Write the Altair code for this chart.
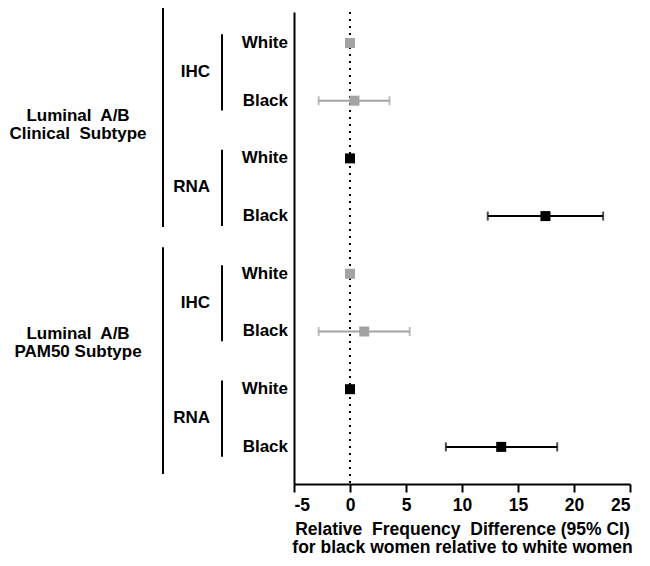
import altair as alt
import pandas as pd

# ---- data ----
subtype = ["Clinical", "Clinical", "Clinical", "Clinical", "PAM50", "PAM50", "PAM50", "PAM50"]
method = ["IHC", "IHC", "RNA", "RNA", "IHC", "IHC", "RNA", "RNA"]
race = ["White", "Black", "White", "Black", "White", "Black", "White", "Black"]
estimate = [0.0, 0.4, 0.0, 17.45, 0.0, 1.27, 0.0, 13.5]
lower = [None, -2.8, None, 12.3, None, -2.8, None, 8.56]
upper = [None, 3.53, None, 22.6, None, 5.33, None, 18.5]

method_labels = ["IHC", "RNA", "IHC", "RNA"]
subtype_labels = ["Luminal\u00a0 A/B\nClinical\u00a0 Subtype", "Luminal\u00a0 A/B\nPAM50 Subtype"]

x_ticks = [-5, 0, 5, 10, 15, 20, 25]

FONT = "Liberation Sans"
GRAY = "#a3a3a3"

df = pd.DataFrame({
    "row": list(range(1, 9)),
    "subtype": subtype,
    "method": method,
    "race": race,
    "est": estimate,
    "lo": lower,
    "hi": upper,
})
ci = df.dropna(subset=["lo"])

mdf = pd.DataFrame({"label": method_labels, "first": [1, 3, 5, 7]})
mdf["mid"] = mdf["first"] + 0.5
mdf["top"] = mdf["first"] - 0.15
mdf["bot"] = mdf["first"] + 1.17

sdf = pd.DataFrame({"label": subtype_labels, "first": [1, 5]})
sdf["mid"] = [2.27, 6.04]
sdf["top"] = [0.32, 4.54]
sdf["bot"] = [4.19, 8.47]

yscale = alt.Scale(domain=[0.463, 8.643], reverse=True, nice=False, zero=False)
xscale = alt.Scale(domain=[-5, 25], nice=False)

color = alt.Color("method:N", scale=alt.Scale(domain=["IHC", "RNA"], range=[GRAY, "black"]), legend=None)

base = alt.Chart(df)

ref = alt.Chart(pd.DataFrame({"ref": [0]})).mark_rule(
    color="black", strokeWidth=2, strokeDash=[2, 5]
).encode(
    x=alt.X("ref:Q", scale=xscale,
            axis=alt.Axis(values=x_ticks, grid=False, domainWidth=2, domainColor="black",
                          tickWidth=2, tickColor="black", tickSize=8,
                          labelExpr="'' + datum.value",
                          labelFont=FONT, labelFontSize=17.5, labelFontWeight="bold",
                          labelColor="black", labelPadding=4,
                          title=["Relative\u00a0 Frequency\u00a0 Difference (95% CI)",
                                 "for black women relative to white women"],
                          titleFont=FONT, titleFontSize=17.5, titleFontWeight="bold",
                          titleColor="black", titlePadding=7, titleLineHeight=18)),
    y=alt.value(0),
    y2=alt.value(472),
)

ci_rule = alt.Chart(ci).mark_rule(strokeWidth=2).encode(
    x=alt.X("lo:Q", scale=xscale),
    x2="hi:Q",
    y=alt.Y("row:Q", scale=yscale,
            axis=alt.Axis(labels=False, ticks=False, grid=False, title=None,
                          domainWidth=2, domainColor="black")),
    color=color,
)
cap_lo = alt.Chart(ci).mark_tick(orient="vertical", size=9, thickness=2).encode(
    x=alt.X("lo:Q", scale=xscale), y=alt.Y("row:Q", scale=yscale), color=color)
cap_hi = alt.Chart(ci).mark_tick(orient="vertical", size=9, thickness=2).encode(
    x=alt.X("hi:Q", scale=xscale), y=alt.Y("row:Q", scale=yscale), color=color)

pts = base.mark_square(size=100, opacity=1).encode(
    x=alt.X("est:Q", scale=xscale), y=alt.Y("row:Q", scale=yscale), color=color)

race_txt = base.mark_text(font=FONT, fontSize=17, fontWeight="bold", align="right",
                          baseline="middle", color="black").encode(
    x=alt.value(-6), y=alt.Y("row:Q", scale=yscale), text="race:N")

m_txt = alt.Chart(mdf).mark_text(font=FONT, fontSize=17, fontWeight="bold", align="right",
                                 baseline="middle", color="black").encode(
    x=alt.value(-84), y=alt.Y("mid:Q", scale=yscale), text="label:N")
m_line = alt.Chart(mdf).mark_rule(strokeWidth=2, color="black").encode(
    x=alt.value(-72), y=alt.Y("top:Q", scale=yscale), y2="bot:Q")

s_txt = alt.Chart(sdf).mark_text(font=FONT, fontSize=17, fontWeight="bold", align="center",
                                 baseline="middle", color="black", lineBreak="\n",
                                 lineHeight=18).encode(
    x=alt.value(-216), y=alt.Y("mid:Q", scale=yscale), text="label:N")
s_line = alt.Chart(sdf).mark_rule(strokeWidth=2, color="black").encode(
    x=alt.value(-131), y=alt.Y("top:Q", scale=yscale), y2="bot:Q")

chart = alt.layer(ref, ci_rule, cap_lo, cap_hi, pts, race_txt, m_txt, m_line, s_txt, s_line).properties(
    width=336, height=472,
    background="white",
    autosize=alt.AutoSizeParams(type="none"),
    padding={"left": 286, "top": 4, "right": 12, "bottom": 74},
).configure_view(strokeWidth=0, stroke="transparent")

chart.save("out.html", embed_options={"renderer": "svg", "actions": False})
